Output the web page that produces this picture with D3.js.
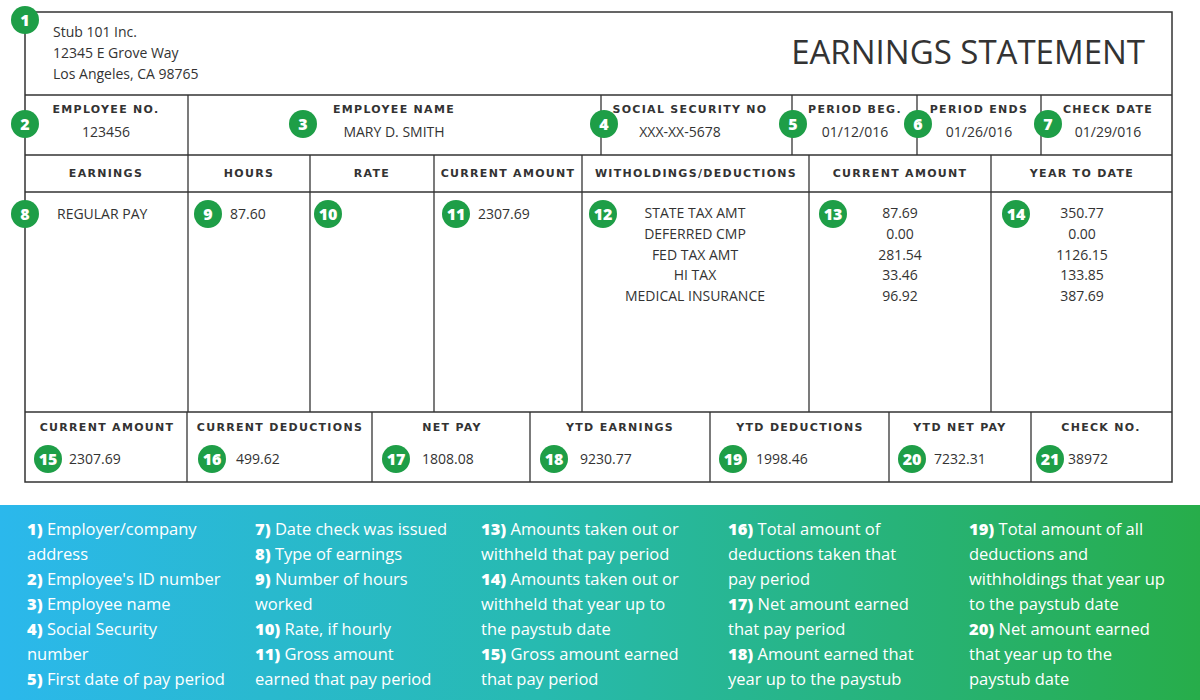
<!DOCTYPE html><html><head><meta charset="utf-8"><script src="https://cdn.jsdelivr.net/npm/d3@7"></script>
<style>body{margin:0;background:#fff}svg{display:block}</style></head><body><svg id="c" width="1200" height="700"></svg>
<script>
const employer=["Stub 101 Inc.","12345 E Grove Way","Los Angeles, CA 98765"];
const infoLabels=["EMPLOYEE NO.","EMPLOYEE NAME","SOCIAL SECURITY NO","PERIOD BEG.","PERIOD ENDS","CHECK DATE"];
const infoValues=["123456","MARY D. SMITH","XXX-XX-5678","01/12/016","01/26/016","01/29/016"];
const colHeads=["EARNINGS","HOURS","RATE","CURRENT AMOUNT","WITHOLDINGS/DEDUCTIONS","CURRENT AMOUNT","YEAR TO DATE"];
const earnType="REGULAR PAY", hours="87.60", currentAmt="2307.69";
const deductions=["STATE TAX AMT","DEFERRED CMP","FED TAX AMT","HI TAX","MEDICAL INSURANCE"];
const dedCurrent=["87.69","0.00","281.54","33.46","96.92"];
const dedYTD=["350.77","0.00","1126.15","133.85","387.69"];
const sumLabels=["CURRENT AMOUNT","CURRENT DEDUCTIONS","NET PAY","YTD EARNINGS","YTD DEDUCTIONS","YTD NET PAY","CHECK NO."];
const sumValues=["2307.69","499.62","1808.08","9230.77","1998.46","7232.31","38972"];
const legendCols=[
 [["1)"," Employer/company"],["","address"],["2)"," Employee's ID number"],["3)"," Employee name"],["4)"," Social Security"],["","number"],["5)"," First date of pay period"]],
 [["7)"," Date check was issued"],["8)"," Type of earnings"],["9)"," Number of hours"],["","worked"],["10)"," Rate, if hourly"],["11)"," Gross amount"],["","earned that pay period"]],
 [["13)"," Amounts taken out or"],["","withheld that pay period"],["14)"," Amounts taken out or"],["","withheld that year up to"],["","the paystub date"],["15)"," Gross amount earned"],["","that pay period"]],
 [["16)"," Total amount of"],["","deductions taken that"],["","pay period"],["17)"," Net amount earned"],["","that pay period"],["18)"," Amount earned that"],["","year up to the paystub"]],
 [["19)"," Total amount of all"],["","deductions and"],["","withholdings that year up"],["","to the paystub date"],["20)"," Net amount earned"],["","that year up to the"],["","paystub date"]]
];
const svg=d3.select("#c"), ink="#333", G="#1e9e47";
const F="'Open Sans','Noto Sans',sans-serif";
const line=(x1,y1,x2,y2)=>svg.append("line").attr("x1",x1).attr("y1",y1).attr("x2",x2).attr("y2",y2).attr("stroke",ink).attr("stroke-width",1.3);
const txt=(x,y,s,o={})=>svg.append("text").attr("x",x).attr("y",y).text(s).attr("font-family",o.f||F).attr("font-size",o.size||14).attr("fill",o.fill||ink).attr("text-anchor",o.a||"start").attr("font-weight",o.w||400).attr("letter-spacing",o.ls||0);
const head=(x,y,s)=>txt(x,y,s,{size:11,w:700,a:"middle",ls:1.3,f:"'DejaVu Sans',sans-serif"});
const badge=(x,y,n)=>{svg.append("circle").attr("cx",x).attr("cy",y).attr("r",14).attr("fill",G);
 txt(x,y+6,n,{size:16,w:800,a:"middle",fill:"#fff",f:"'Open Sans',sans-serif"});};
svg.append("rect").attr("x",25).attr("y",12).attr("width",1147).attr("height",470).attr("fill","none").attr("stroke",ink).attr("stroke-width",1.5);
[95,155,192,412].forEach(y=>line(25,y,1172,y));
[188,601,792,917,1041].forEach(x=>line(x,95,x,155));
[188,310,434,582,809,991].forEach(x=>line(x,155,x,412));
[187,372,530,710,889,1031].forEach(x=>line(x,412,x,482));
employer.forEach((s,i)=>txt(53,37+i*21,s,{size:14}));
txt(1145,64,"EARNINGS STATEMENT",{size:33,a:"end",f:"'Open Sans',sans-serif"});
const infoX=[[106,106],[394,394],[690,680],[855,855],[979,979],[1108,1108]];
infoLabels.forEach((s,i)=>{head(infoX[i][0],113,s);txt(infoX[i][1],137,infoValues[i],{size:14,a:"middle"});});
const colX=[106,249,372,508,696,900,1082];
colHeads.forEach((s,i)=>head(colX[i],177,s));
txt(57,219,earnType,{size:14});txt(230,219,hours,{size:14});txt(478,219,currentAmt,{size:14});
const yRow=d3.scalePoint().domain(deductions).range([218,301]);
deductions.forEach((d,i)=>{const y=yRow(d);
 txt(695,y,d,{size:14,a:"middle"});txt(900,y,dedCurrent[i],{size:14,a:"middle"});txt(1082,y,dedYTD[i],{size:14,a:"middle"});});
const sumX=[[107,69],[280,236],[452,422],[620,580],[800,756],[960,934],[1101,1068]];
sumLabels.forEach((s,i)=>{head(sumX[i][0],431,s);txt(sumX[i][1],464,sumValues[i],{size:14});});
[[25,20,1],[25,124,2],[303,124,3],[604,124,4],[793,124,5],[918,124,6],[1048,124,7],[25,214,8],[208,214,9],[328,214,10],[456,214,11],[603,214,12],[833,214,13],[1016,214,14],[48,459,15],[212,459,16],[396,459,17],[554,459,18],[733,459,19],[912,459,20],[1050,459,21]].forEach(b=>badge(b[0],b[1],b[2]));
const gr=svg.append("defs").append("linearGradient").attr("id","g");
gr.append("stop").attr("offset","0%").attr("stop-color","#2bb8ec");
gr.append("stop").attr("offset","45%").attr("stop-color","#27bab0");
gr.append("stop").attr("offset","100%").attr("stop-color","#27ad4a");
svg.append("rect").attr("x",0).attr("y",505).attr("width",1200).attr("height",195).attr("fill","url(#g)");
const lx=[27,255,481,728,969];
legendCols.forEach((col,c)=>col.forEach((p,i)=>{
 const t=svg.append("text").attr("x",lx[c]).attr("y",535+i*25).attr("font-family","'Open Sans',sans-serif").attr("font-size",16.5).attr("fill","#fff");
 if(p[0])t.append("tspan").attr("font-weight",800).text(p[0]);
 t.append("tspan").attr("font-weight",500).text(p[1]);}));
</script></body></html>
